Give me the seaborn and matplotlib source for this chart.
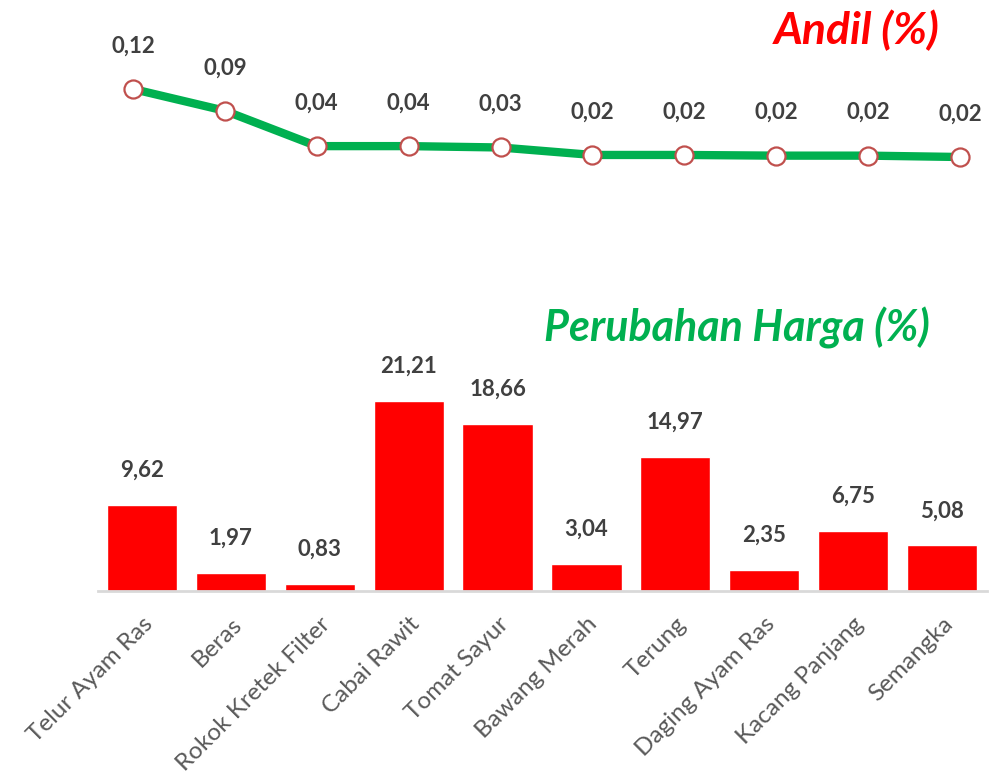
import numpy as np
import pandas as pd
import seaborn as sns
import matplotlib.pyplot as plt

# %%
komoditas = [
    "Telur Ayam Ras",
    "Beras",
    "Rokok Kretek Filter",
    "Cabai Rawit",
    "Tomat Sayur",
    "Bawang Merah",
    "Terung",
    "Daging Ayam Ras",
    "Kacang Panjang",
    "Semangka",
]
andil = [0.120, 0.088, 0.036, 0.036, 0.034, 0.023, 0.023, 0.022, 0.022, 0.020]
perubahan = [9.62, 1.97, 0.83, 21.21, 18.66, 3.04, 14.97, 2.35, 6.75, 5.08]

df = pd.DataFrame({"komoditas": komoditas, "pos": np.arange(len(komoditas)),
                   "andil": andil, "perubahan": perubahan})

# %%
sns.set_style("white")
plt.rcParams["font.family"] = ["Lato", "DejaVu Sans"]

W, H = 992, 778
fig = plt.figure(figsize=(W / 100, H / 100), dpi=100)

def px_axes(left, top, right, bottom):
    return fig.add_axes([left / W, 1 - bottom / H, (right - left) / W, (bottom - top) / H])

label_color = "#404040"

# top: andil line
ax1 = px_axes(100, 30, 985, 200)
sns.lineplot(data=df, x="pos", y="andil", ax=ax1, color="#00B050", linewidth=6,
             marker="o", markersize=13, markerfacecolor="white",
             markeredgecolor="#C0504D", markeredgewidth=1.6)
step = (960 - 133) / 9
ax1.set_xlim(-(133 - 100) / step, 9 + (985 - 960) / step)
ppu = (157 - 89) / (0.120 - 0.020)
ax1.set_ylim(0.020 - (200 - 157) / ppu, 0.120 + (89 - 30) / ppu)
for x, v in zip(df["pos"], df["andil"]):
    ax1.annotate(f"{v:.2f}".replace(".", ","), (x, v), xytext=(0, 31),
                 textcoords="offset points", ha="center", va="center",
                 fontsize=16, fontweight="bold", color=label_color)
ax1.axis("off")

# bottom: perubahan harga bars
ax2 = px_axes(97.5, 370, 986.5, 591)
sns.barplot(data=df, x="komoditas", y="perubahan", ax=ax2, color="#FF0000",
            saturation=1, width=0.79)
ax2.set_xlim(-0.5, 9.5)
ax2.set_ylim(0, (591 - 370) / (190 / 21.21))
for x, v in zip(df["pos"], df["perubahan"]):
    ax2.annotate(f"{v:.2f}".replace(".", ","), (x, v), xytext=(0, 25),
                 textcoords="offset points", ha="center", va="center",
                 fontsize=16, fontweight="bold", color=label_color)
for side in ["top", "left", "right"]:
    ax2.spines[side].set_visible(False)
ax2.spines["bottom"].set_color("#D9D9D9")
ax2.spines["bottom"].set_linewidth(2)
ax2.set_yticks([])
ax2.set_xlabel("")
ax2.set_ylabel("")
ax2.tick_params(axis="x", length=0, pad=16)
plt.setp(ax2.get_xticklabels(), rotation=45, ha="right", rotation_mode="anchor",
         fontsize=17.5, color="#595959")

# titles
fig.text(940 / W, 1 - 30 / H, "Andil (%)", ha="right", va="center", color="#FF0000",
         fontsize=32, fontweight="bold", fontstyle="italic")
fig.text(930 / W, 1 - 328 / H, "Perubahan Harga (%)", ha="right", va="center",
         color="#00B050", fontsize=31, fontweight="bold", fontstyle="italic")

fig.savefig("out.png", dpi=100)
